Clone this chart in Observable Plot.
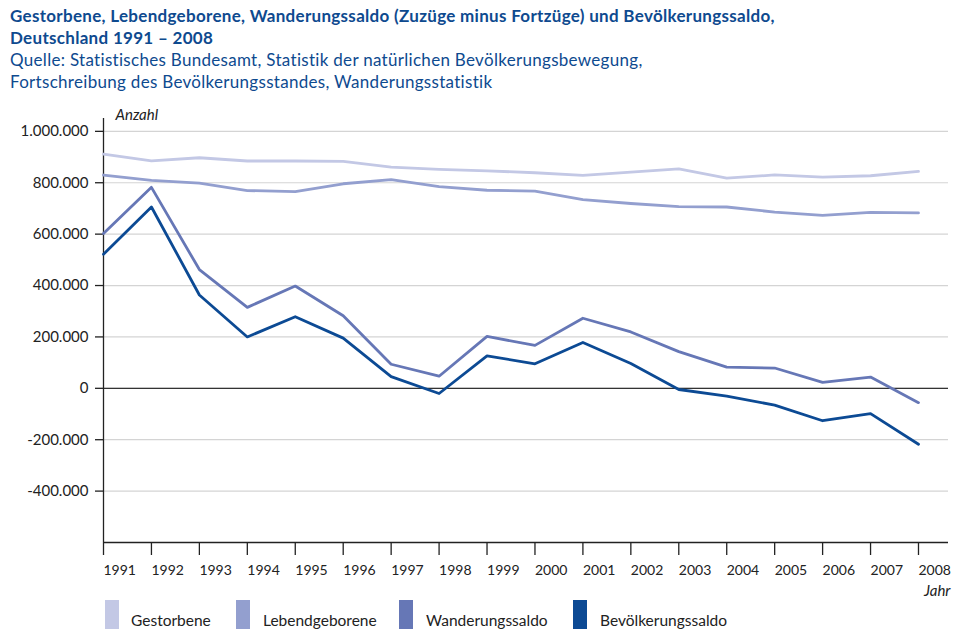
<!DOCTYPE html>
<html lang="de">
<head>
<meta charset="utf-8">
<script src="https://cdn.jsdelivr.net/npm/d3@7"></script>
<script src="https://cdn.jsdelivr.net/npm/@observablehq/plot@0.6"></script>
<style>
  html, body { margin: 0; padding: 0; background: #fff; }
  body { width: 963px; height: 642px; position: relative; overflow: hidden; font-family: Lato, "Open Sans", sans-serif; }
  #head { position: absolute; left: 10px; top: 5px; color: #0e4a8f; font-size: 17px; line-height: 22px; letter-spacing: 0.3px; }
  #head .t { font-weight: 700; }
  #chart { position: absolute; left: 0; top: 100px; }
  #legend { position: absolute; left: 0; top: 598px; width: 963px; height: 32px; }
  .item { position: absolute; top: 0; height: 32px; }
  .sw { position: absolute; left: 0; top: 2px; width: 14px; height: 29px; }
  .lab { position: absolute; top: 13px; white-space: nowrap; font-size: 15.5px; color: #222; }
</style>
</head>
<body>
<div id="head">
  <div class="t">Gestorbene, Lebendgeborene, Wanderungssaldo (Zuzüge minus Fortzüge) und Bevölkerungssaldo,</div>
  <div class="t">Deutschland 1991 – 2008</div>
  <div>Quelle: Statistisches Bundesamt, Statistik der natürlichen Bevölkerungsbewegung,</div>
  <div>Fortschreibung des Bevölkerungsstandes, Wanderungsstatistik</div>
</div>
<div id="chart"></div>
<div id="legend"></div>
<script>
// Jahre
const years = [1991, 1992, 1993, 1994, 1995, 1996, 1997, 1998, 1999, 2000,
               2001, 2002, 2003, 2004, 2005, 2006, 2007, 2008];

// Gestorbene
const gestorbene = [911245, 885443, 897270, 884661, 884588, 882843, 860389, 852382, 846330,
                    838797, 828541, 841686, 853946, 818271, 830227, 821627, 827155, 844439];

// Lebendgeborene
const lebendgeborene = [830019, 809114, 798447, 769603, 765221, 796013, 812173, 785034, 770744,
                        766999, 734475, 719250, 706721, 705622, 685795, 672724, 684862, 682514];

// Wanderungssaldo (Zuzüge minus Fortzüge)
const wanderungssaldo = [602523, 782071, 462096, 314998, 397935, 282197, 93664, 47098, 201975,
                         167120, 272723, 219288, 142645, 82543, 78953, 22791, 43912, -55743];

// Bevölkerungssaldo
const bevoelkerungssaldo = [521297, 705742, 363273, 199940, 278568, 195367, 45448, -20250, 126389,
                            95322, 178657, 96852, -4580, -30106, -65479, -126112, -98381, -217668];

// Achsenbeschriftung
const yTicks = [-400000, -200000, 0, 200000, 400000, 600000, 800000, 1000000];

const seriesNames = ["Gestorbene", "Lebendgeborene", "Wanderungssaldo", "Bevölkerungssaldo"];
const seriesColors = ["#c3c8e5", "#939fcf", "#6677b6", "#0c4a94"];
const seriesValues = [gestorbene, lebendgeborene, wanderungssaldo, bevoelkerungssaldo];

const rows = seriesNames.flatMap((name, i) =>
  years.map((year, j) => ({series: name, year, value: seriesValues[i][j]})));

const fmt = v => (v < 0 ? "-" : "") + d3.format(",")(Math.abs(v)).replace(/,/g, ".");

const plot = Plot.plot({
  width: 963,
  height: 505,
  marginLeft: 103,
  marginRight: 15,
  marginTop: 18,
  marginBottom: 63,
  style: {fontFamily: "Lato, 'Open Sans', sans-serif", color: "#222", background: "transparent"},
  x: {domain: [1991, 2008.626]},
  y: {domain: [-600000, 1050000]},
  color: {domain: seriesNames, range: seriesColors},
  marks: [
    Plot.gridY(yTicks, {stroke: "#d4d4d4", strokeOpacity: 1, strokeWidth: 1.2}),
    Plot.ruleY([0], {stroke: "#333", strokeWidth: 1.3}),
    Plot.ruleY([-600000], {stroke: "#222", strokeWidth: 1.3}),
    Plot.ruleX([1991], {stroke: "#222", strokeWidth: 1.3}),
    Plot.axisY(yTicks, {
      tickSize: 8, tickPadding: 7, tickFormat: fmt, label: null,
      fontSize: 15, fill: "#222", strokeWidth: 1.3, letterSpacing: "1px"
    }),
    Plot.axisX(years, {
      tickSize: 13, tickPadding: 10, tickFormat: d => String(d), label: null,
      fontSize: 14, textAnchor: "start", strokeWidth: 1.3
    }),
    Plot.lineY(rows, {x: "year", y: "value", z: "series", stroke: "series", strokeWidth: 2.8}),
    Plot.text(["Anzahl"], {frameAnchor: "top-left", dx: 12, dy: -9, textAnchor: "start",
      fontSize: 15, fontStyle: "italic", fill: "#222"}),
    Plot.text(["Jahr"], {frameAnchor: "bottom-right", dx: 2, dy: 53, textAnchor: "end",
      fontSize: 15, fontStyle: "italic", fill: "#222"})
  ]
});
document.getElementById("chart").appendChild(plot);

// Legende
const legendX = [105, 236, 399, 573];
const legend = document.getElementById("legend");
seriesNames.forEach((name, i) => {
  const item = document.createElement("div");
  item.className = "item";
  item.style.left = legendX[i] + "px";
  const sw = document.createElement("div");
  sw.className = "sw";
  sw.style.background = seriesColors[i];
  const lab = document.createElement("div");
  lab.className = "lab";
  lab.style.left = (i === 0 ? 26 : 27) + "px";
  lab.textContent = name;
  item.appendChild(sw);
  item.appendChild(lab);
  legend.appendChild(item);
});
</script>
</body>
</html>
